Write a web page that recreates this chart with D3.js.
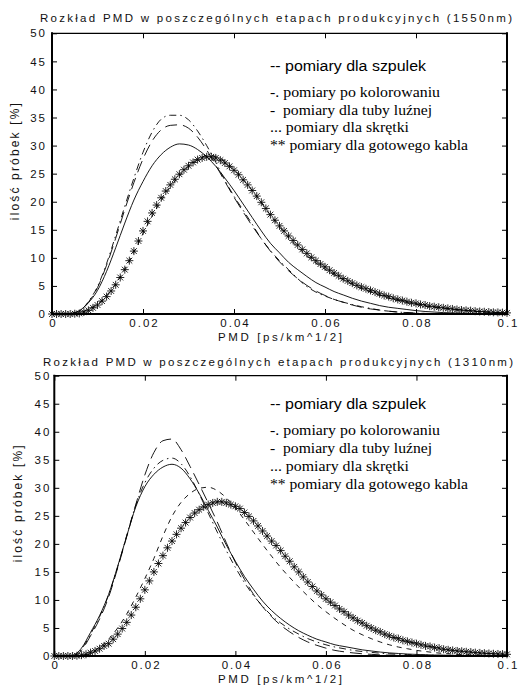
<!DOCTYPE html>
<html>
<head>
<meta charset="utf-8">
<script src="https://cdn.jsdelivr.net/npm/d3@7"></script>
<style>
  body { margin: 0; background: #fff; }
  svg { display: block; }
</style>
</head>
<body>
<svg id="chart" width="519" height="688"></svg>
<script>
// ---- data -------------------------------------------------------------
// Line series are sampled every 0.002 ps/km^1/2, the cable series every 0.001.
const lineStep = 0.002;
const starStep = 0.001;

const xTicks = [0, 0.02, 0.04, 0.06, 0.08, 0.1];
const xTickLabels = ["0", "0.02", "0.04", "0.06", "0.08", "0.1"];
const yTicks = [0, 5, 10, 15, 20, 25, 30, 35, 40, 45, 50];
const yTickLabels = ["0", "5", "10", "15", "20", "25", "30", "35", "40", "45", "50"];

const titles = [
  "Rozkład PMD w poszczególnych etapach produkcyjnych (1550nm)",
  "Rozkład PMD w poszczególnych etapach produkcyjnych (1310nm)"
];
const xTitle = "PMD [ps/km^1/2]";
const yTitle = "ilość próbek [%]";
const legendHead = "-- pomiary dla szpulek";
const legendRows = [
  "-. pomiary po kolorowaniu",
  "-  pomiary dla tuby luźnej",
  "... pomiary dla skrętki",
  "** pomiary dla gotowego kabla"
];

// 1550 nm
const szpulek1550 = [0,0,0.05,0.45,2.1,4.7,8.7,13.5,18.6,23.4,27.6,30.8,32.8,33.6,33.7,33.1,31.5,29.2,26.5,23.6,20.8,18.2,15.7,13.4,11.2,9.3,7.7,6.3,5.1,4.1,3.3,2.6,2.1,1.6,1.2,0.9,0.7,0.5,0.35,0.25,0.15,0.1,0.08,0.05,0.04,0.03,0.02,0.02,0.01,0.01,0];
const kolorowanie1550 = [0,0,0.05,0.5,2.2,4.9,9.0,14.0,19.2,24.2,28.8,32.4,34.7,35.4,35.4,34.6,32.6,30.0,27.0,23.8,21.0,18.5,16.0,13.4,11.3,9.5,7.9,6.3,4.9,3.9,3.2,2.6,2.1,1.7,1.3,1.0,0.7,0.5,0.35,0.25,0.15,0.1,0.08,0.05,0.04,0.03,0.02,0.02,0.01,0.01,0];
const tuba1550 = [0,0,0.1,0.6,2.0,4.2,7.6,11.8,16.2,20.3,23.6,26.4,28.4,29.7,30.3,30.1,29.3,28.0,26.3,24.2,22.0,19.6,17.2,14.8,12.6,10.9,9.2,7.9,6.7,5.6,4.8,4.0,3.4,2.8,2.3,1.9,1.5,1.2,1.0,0.8,0.6,0.45,0.35,0.25,0.2,0.15,0.1,0.08,0.06,0.04,0.03];
const skretka1550 = [0,0,0,0.2,0.8,1.8,3.3,5.4,8.0,11.0,14.3,17.4,20.2,22.6,24.6,26.2,27.5,28.2,28.1,27.2,25.8,24.0,22.0,19.8,17.6,15.5,13.6,11.9,10.4,9.1,8.0,7.0,6.1,5.3,4.5,3.9,3.3,2.8,2.4,2.0,1.7,1.4,1.2,1.0,0.8,0.65,0.5,0.4,0.3,0.25,0.2];
const kabel1550 = [0,0,0,0,0,0.05,0.1,0.35,0.65,1.1,1.6,2.3,3.1,4.1,5.2,6.5,7.9,9.5,11.2,13.0,14.8,16.5,18.0,19.4,20.7,21.9,23.0,24.0,24.9,25.7,26.4,27.0,27.5,27.8,28.0,28.0,27.8,27.4,26.9,26.3,25.6,24.8,23.9,23.0,22.0,21.0,19.9,18.8,17.7,16.7,15.7,14.8,13.9,13.1,12.3,11.5,10.8,10.1,9.5,8.9,8.4,7.8,7.3,6.8,6.3,5.9,5.5,5.1,4.8,4.5,4.2,3.9,3.6,3.3,3.1,2.8,2.6,2.4,2.2,2.0,1.9,1.7,1.6,1.4,1.3,1.2,1.1,1.0,0.9,0.8,0.7,0.65,0.6,0.5,0.45,0.4,0.35,0.3,0.28,0.25,0.2];

// 1310 nm
const szpulek1310 = [0,0,0,1.0,3.6,6.6,10.5,15.7,21.3,27.0,32.3,36.3,38.4,38.7,36.8,33.8,30.6,27.3,23.9,20.2,16.7,13.7,11.0,8.8,7.0,5.5,4.3,3.3,2.5,1.9,1.4,1.0,0.75,0.55,0.4,0.3,0.2,0.15,0.1,0.08,0.05,0.04,0.03,0.02,0.02,0.01,0.01,0.01,0,0,0];
const kolorowanie1310 = [0,0,0,1.2,3.9,7.0,10.9,15.9,21.5,26.9,30.9,33.5,34.9,35.3,34.3,32.0,28.9,25.5,22.1,18.8,15.8,13.1,10.8,8.9,7.2,5.9,4.8,3.9,3.1,2.5,2.0,1.6,1.3,1.0,0.8,0.65,0.5,0.4,0.3,0.25,0.2,0.15,0.12,0.1,0.08,0.06,0.05,0.04,0.03,0.02,0.02];
const tuba1310 = [0,0,0.1,1.4,4.2,7.2,11.0,16.0,21.4,26.6,30.2,32.4,33.7,34.2,33.5,31.6,29.0,26.0,23.0,19.8,16.9,14.2,11.9,9.8,8.1,6.7,5.5,4.5,3.7,3.0,2.5,2.0,1.7,1.4,1.1,0.9,0.7,0.55,0.45,0.35,0.28,0.22,0.18,0.15,0.12,0.1,0.08,0.07,0.06,0.05,0.05];
const skretka1310 = [0,0,0,0.1,0.5,1.5,3.0,5.0,7.5,10.5,13.8,17.4,21.4,24.9,27.4,29.0,29.9,30.1,29.5,28.2,26.4,24.3,22.1,19.9,17.8,15.8,14.0,12.3,10.7,9.2,7.9,6.7,5.6,4.6,3.8,3.1,2.5,2.0,1.6,1.3,1.0,0.8,0.6,0.45,0.35,0.25,0.2,0.15,0.1,0.08,0.05];
const kabel1310 = [0,0,0,0,0,0.05,0.15,0.3,0.6,0.9,1.3,1.8,2.2,3.0,3.9,4.9,6.0,7.3,8.7,10.2,11.8,13.4,15.0,16.5,17.9,19.3,20.5,21.7,22.8,23.8,24.7,25.5,26.1,26.6,27.0,27.3,27.5,27.5,27.3,27.0,26.7,26.3,25.6,24.9,24.1,23.2,22.3,21.4,20.5,19.7,18.8,17.8,16.9,15.9,15.0,14.1,13.2,12.4,11.6,10.9,10.2,9.6,9.0,8.4,7.9,7.3,6.8,6.3,5.9,5.4,5.0,4.6,4.3,3.9,3.6,3.3,3.1,2.8,2.6,2.4,2.2,2.0,1.8,1.7,1.5,1.4,1.2,1.1,1.0,0.9,0.85,0.75,0.7,0.6,0.55,0.5,0.45,0.4,0.36,0.33,0.3];

// ---- drawing ----------------------------------------------------------
const SANS = "'Liberation Sans', Arial, Helvetica, sans-serif";
const SERIF = "'Liberation Serif', 'Times New Roman', Times, serif";

const lineStyles = {
  szpulek: "12,6",
  kolorowanie: "7,4,1.5,4",
  tuba: null,
  skretka: "5,5"
};

const panels = [
  {
    title: titles[0], titleX: 40, titleY: 22, titleLen: 472,
    left: 52, right: 507, top: 33.3, bottom: 314,
    yLabelX: 18.5, yTickPad: 5, xTitleY: 340.5,
    legendHeadY: 70.5, legendRowY: 97, legendRowStep: 17.5,
    lines: { szpulek: szpulek1550, kolorowanie: kolorowanie1550, tuba: tuba1550, skretka: skretka1550 },
    cable: kabel1550
  },
  {
    title: titles[1], titleX: 43, titleY: 366, titleLen: 470,
    left: 54.3, right: 507, top: 375.7, bottom: 656,
    yLabelX: 21.5, yTickPad: 3, xTitleY: 683,
    legendHeadY: 409, legendRowY: 435, legendRowStep: 18,
    lines: { szpulek: szpulek1310, kolorowanie: kolorowanie1310, tuba: tuba1310, skretka: skretka1310 },
    cable: kabel1310
  }
];

const svg = d3.select("#chart");
const starPath = "M-4,0H4M0,-4V4M-2.9,-2.9L2.9,2.9M-2.9,2.9L2.9,-2.9";

panels.forEach(p => {
  const x = d3.scaleLinear().domain([0, 0.1]).range([p.left, p.right]);
  const y = d3.scaleLinear().domain([0, 50]).range([p.bottom, p.top]);
  const g = svg.append("g");

  // title
  g.append("text")
    .attr("x", p.titleX).attr("y", p.titleY)
    .attr("textLength", p.titleLen).attr("lengthAdjust", "spacing")
    .style("font-family", SANS).style("font-size", "11.5px").attr("fill", "#111")
    .text(p.title);

  // curves
  Object.keys(p.lines).forEach(key => {
    const line = d3.line()
      .x((d, i) => x(i * lineStep))
      .y(d => y(d))
      .curve(d3.curveMonotoneX);
    g.append("path")
      .datum(p.lines[key])
      .attr("d", line)
      .attr("fill", "none")
      .attr("stroke", "#000")
      .attr("stroke-width", 0.9)
      .attr("stroke-dasharray", lineStyles[key]);
  });

  // cable measurements drawn as asterisk markers
  g.append("g").selectAll("path")
    .data(p.cable)
    .join("path")
    .attr("transform", (d, i) => `translate(${x(i * starStep)},${y(d)})`)
    .attr("d", starPath)
    .attr("fill", "none")
    .attr("stroke", "#000")
    .attr("stroke-width", 0.85);

  // axes with inward ticks on all four sides
  const tick = 5;
  const styleAxis = sel => {
    sel.select(".domain").remove();
    sel.selectAll(".tick line").attr("stroke", "#000").attr("stroke-width", 1);
    sel.selectAll("text")
      .attr("font-family", null)
      .style("font-family", SANS).style("font-size", "11.5px")
      .attr("letter-spacing", "2").attr("fill", "#111");
  };
  g.append("g").attr("transform", `translate(0,${p.bottom})`)
    .call(d3.axisBottom(x).tickValues(xTicks).tickFormat((d, i) => xTickLabels[i])
      .tickSizeInner(-tick).tickSizeOuter(0).tickPadding(5))
    .call(styleAxis)
    .selectAll("text").attr("dx", "1");
  g.append("g").attr("transform", `translate(0,${p.top})`)
    .call(d3.axisTop(x).tickValues(xTicks).tickFormat("").tickSizeInner(-tick).tickSizeOuter(0))
    .call(styleAxis);
  g.append("g").attr("transform", `translate(${p.left},0)`)
    .call(d3.axisLeft(y).tickValues(yTicks).tickFormat((d, i) => yTickLabels[i])
      .tickSizeInner(-tick).tickSizeOuter(0).tickPadding(p.yTickPad))
    .call(styleAxis);
  g.append("g").attr("transform", `translate(${p.right},0)`)
    .call(d3.axisRight(y).tickValues(yTicks).tickFormat("").tickSizeInner(-tick).tickSizeOuter(0))
    .call(styleAxis);

  // frame
  const frame = [
    [p.left, p.bottom, p.right, p.bottom, 2],
    [p.left, p.top, p.left, p.bottom, 2],
    [p.right, p.top, p.right, p.bottom, 2],
    [p.left, p.top, p.right, p.top, 1.3]
  ];
  g.selectAll("line.frame").data(frame).join("line")
    .attr("class", "frame")
    .attr("x1", d => d[0]).attr("y1", d => d[1])
    .attr("x2", d => d[2]).attr("y2", d => d[3])
    .attr("stroke", "#000").attr("stroke-width", d => d[4])
    .attr("stroke-linecap", "square");

  // axis titles
  g.append("text")
    .attr("x", 218).attr("y", p.xTitleY)
    .attr("textLength", 124).attr("lengthAdjust", "spacing")
    .style("font-family", SANS).style("font-size", "11.5px").attr("fill", "#111")
    .text(xTitle);
  const yMid = (p.top + p.bottom) / 2 - 12;
  g.append("text")
    .attr("transform", `translate(${p.yLabelX},${yMid}) rotate(-90)`)
    .attr("x", -58.5).attr("y", 0)
    .attr("textLength", 117).attr("lengthAdjust", "spacing")
    .style("font-family", SANS).style("font-size", "12px").attr("fill", "#111")
    .text(yTitle);

  // legend text
  g.append("text")
    .attr("x", 270).attr("y", p.legendHeadY)
    .attr("textLength", 156).attr("lengthAdjust", "spacingAndGlyphs")
    .style("font-family", SANS).style("font-size", "14px").attr("fill", "#000")
    .text(legendHead);
  const rowWidths = [170, 162, 139, 198];
  g.selectAll("text.legend-row").data(legendRows).join("text")
    .attr("class", "legend-row")
    .attr("x", 270)
    .attr("y", (d, i) => p.legendRowY + i * p.legendRowStep)
    .attr("textLength", (d, i) => rowWidths[i]).attr("lengthAdjust", "spacingAndGlyphs")
    .style("font-family", SERIF).style("font-size", "14.5px").style("white-space", "pre")
    .attr("fill", "#000")
    .text(d => d);
});
</script>
</body>
</html>
